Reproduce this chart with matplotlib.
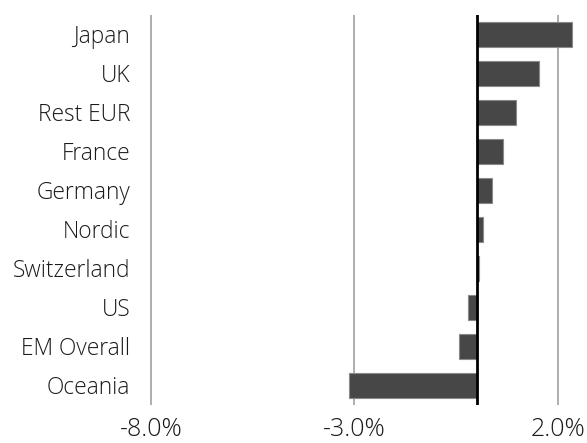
import matplotlib
matplotlib.use("Agg")
import matplotlib.pyplot as plt

categories = ["Japan", "UK", "Rest EUR", "France", "Germany", "Nordic",
              "Switzerland", "US", "EM Overall", "Oceania"]
values = [2.35, 1.54, 0.96, 0.64, 0.37, 0.16, 0.05, -0.21, -0.43, -3.13]
xticks = [-8.0, -3.0, 2.0]
xtick_labels = ["-8.0%", "-3.0%", "2.0%"]

plt.rcParams['font.family'] = ['Open Sans', 'DejaVu Sans']

fig = plt.figure(figsize=(5.87, 4.43), dpi=100)
ax = fig.add_axes([0.236, 0.0858, 0.7566, 0.8804])

y = list(range(len(categories)))
ax.barh(y, values, height=0.66, color="#474747", edgecolor="#8a8a8a",
        linewidth=0.8, zorder=3)
ax.axvline(0, color="black", linewidth=2, zorder=4)

ax.set_xlim(-8.3, 2.6)
ax.set_ylim(len(categories) - 0.5, -0.5)
ax.set_yticks(y)
ax.set_yticklabels(categories, fontsize=16.4, color="#1a1a1a", fontweight=300)
ax.set_xticks(xticks)
ax.set_xticklabels(xtick_labels, fontsize=18, color="#1a1a1a", fontweight=300)
ax.tick_params(axis="both", length=0)
ax.tick_params(axis="y", pad=6)
ax.tick_params(axis="x", pad=9)
ax.grid(axis="x", color="#a0a0a0", linewidth=1.2, zorder=0)
for s in ax.spines.values():
    s.set_visible(False)

fig.savefig("out.png", dpi=100)
